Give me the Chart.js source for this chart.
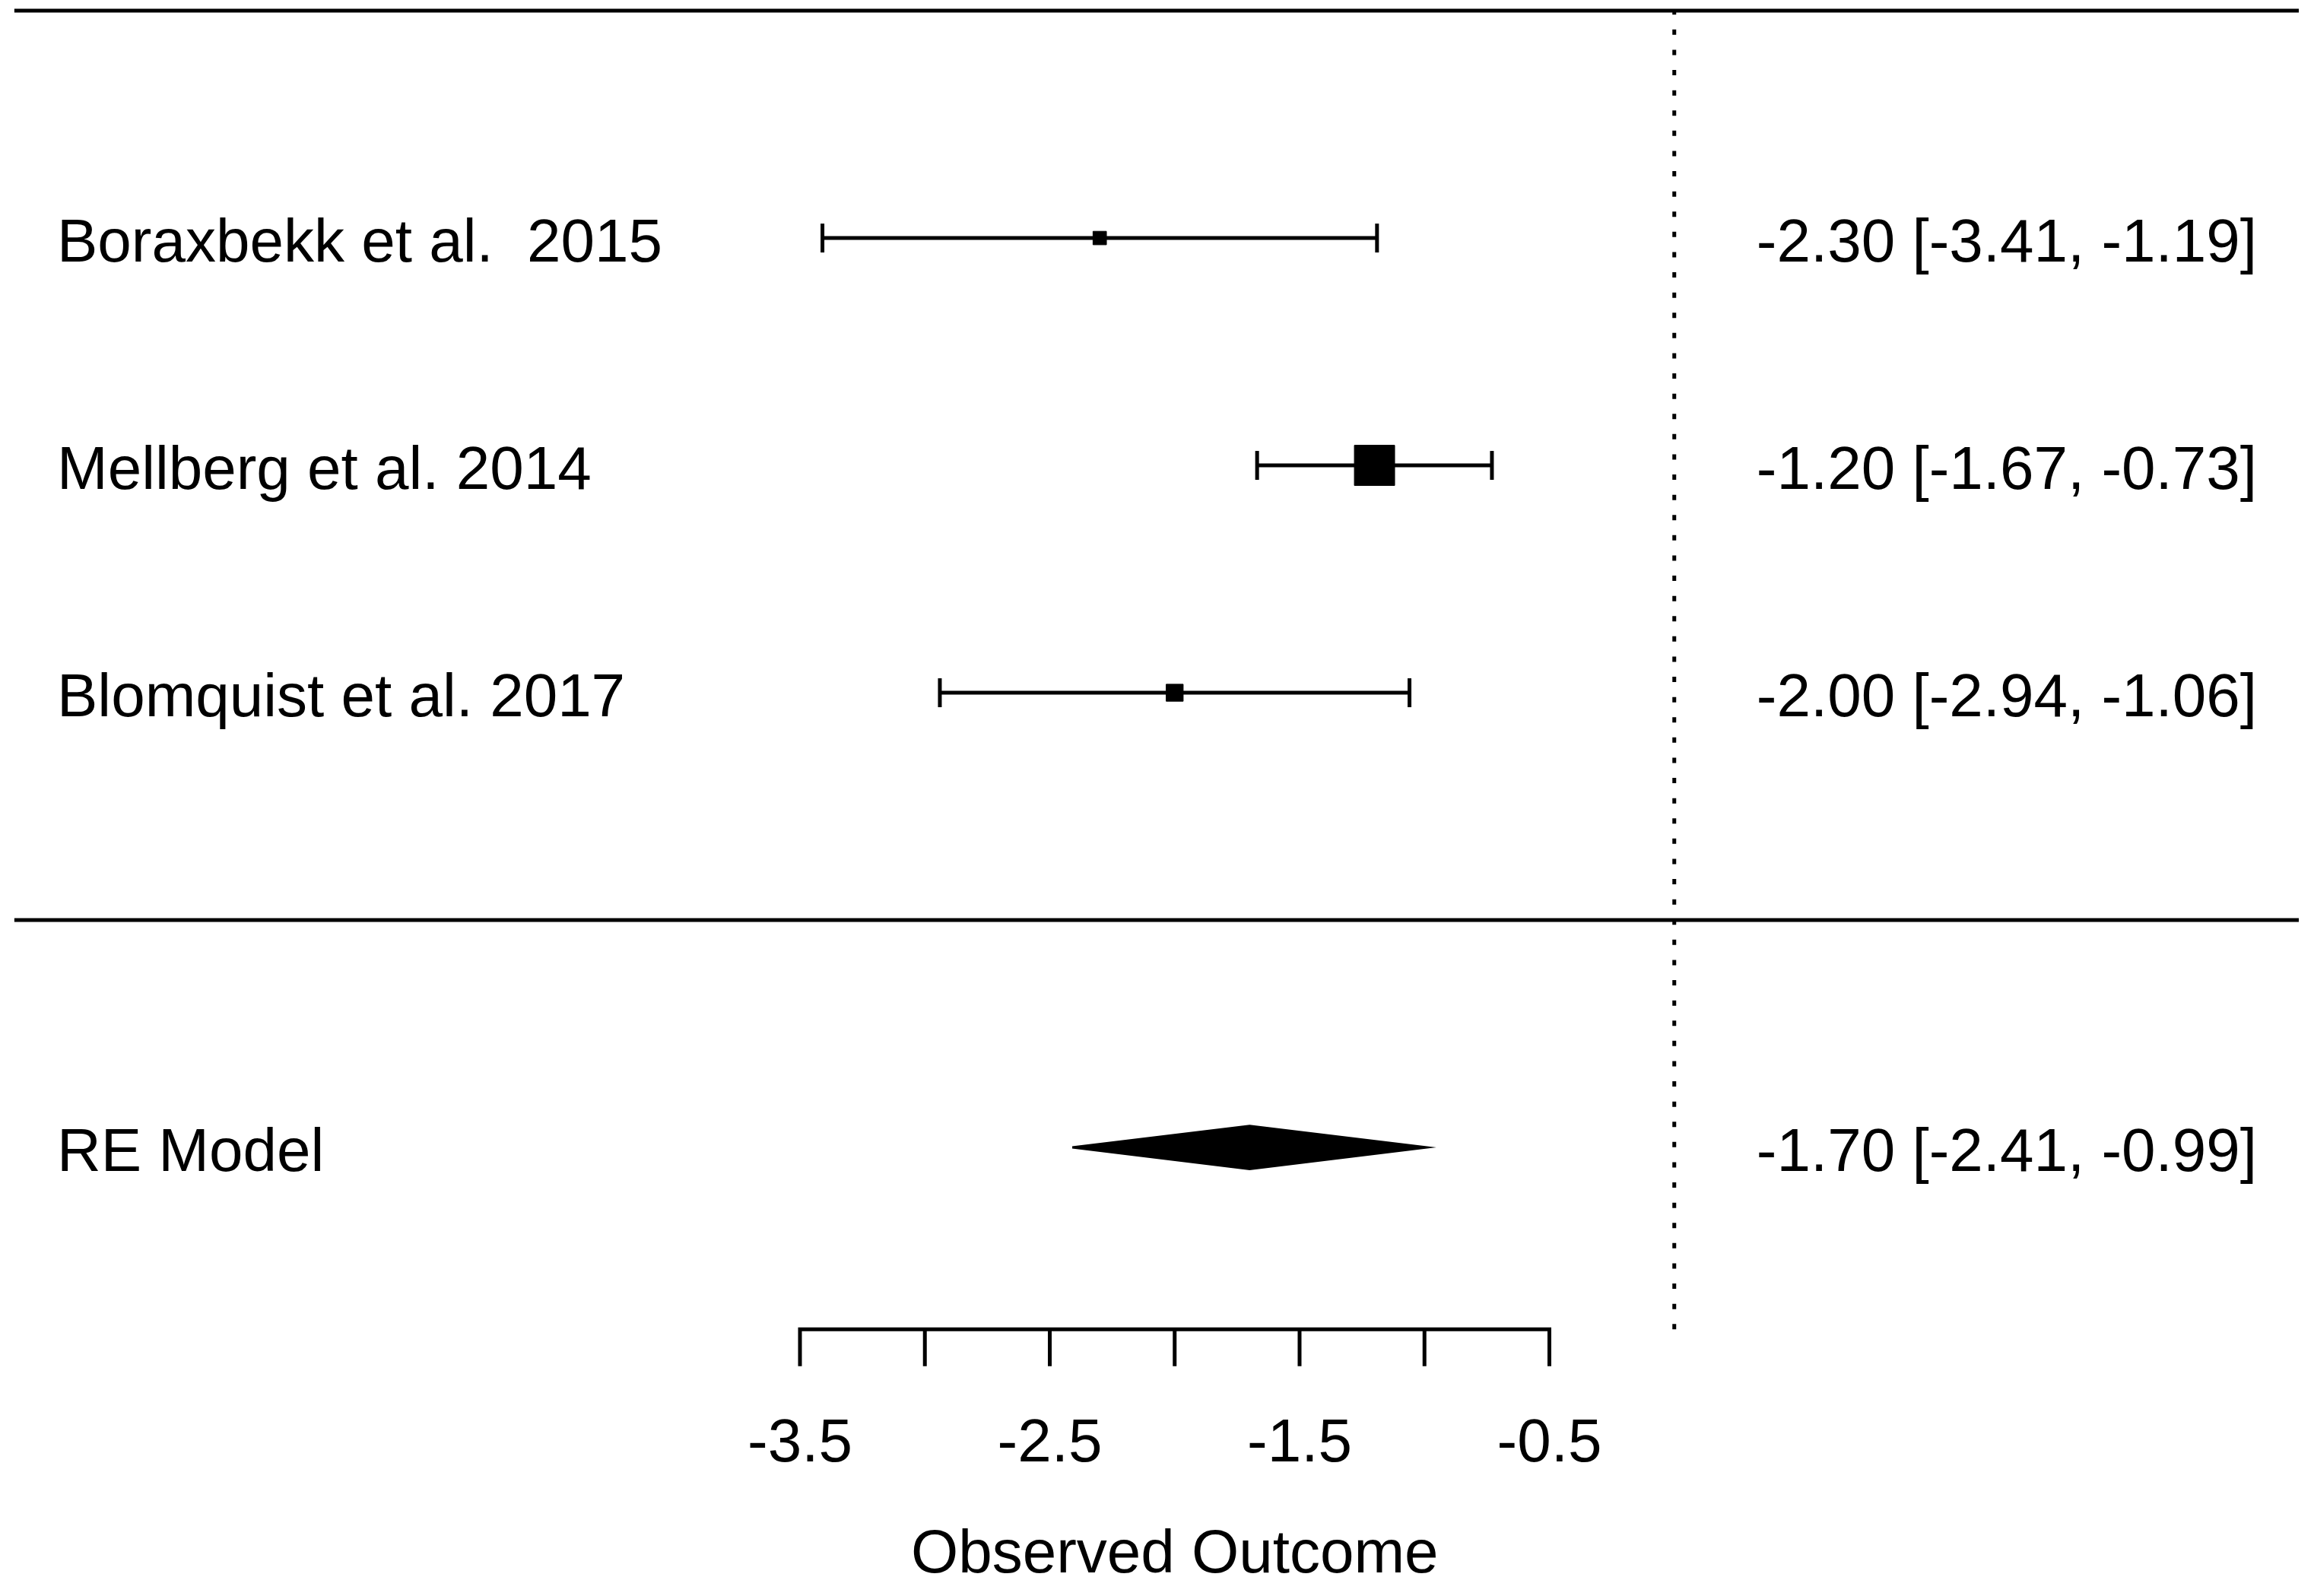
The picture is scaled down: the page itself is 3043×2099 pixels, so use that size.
<!DOCTYPE html>
<html>
<head>
<meta charset="utf-8">
<script src="https://cdn.jsdelivr.net/npm/chart.js@4.4.1/dist/chart.umd.min.js"></script>
<style>
    html, body { margin: 0; padding: 0; background: #ffffff; }
    #forest { display: block; }
</style>
</head>
<body>
<canvas id="forest" width="3043" height="2099" style="width:3043px;height:2099px"></canvas>
<script>
// Studies, effect sizes and confidence limits
var studies = ['Boraxbekk et al.  2015', 'Mellberg et al. 2014', 'Blomquist et al. 2017'];
var estimates = [-2.30, -1.20, -2.00];
var lowerCI = [-3.41, -1.67, -2.94];
var upperCI = [-1.19, -0.73, -1.06];
var rows = [3, 2, 1];

// Summary (random effects model)
var modelLabel = 'RE Model';
var modelEstimate = -1.70;
var modelLower = -2.41;
var modelUpper = -0.99;
var modelRow = -1;

// Axis
var axisTicks = [-3.5, -3.0, -2.5, -2.0, -1.5, -1.0, -0.5];
var axisLabelValues = [-3.5, -2.5, -1.5, -0.5];
var axisLabels = ['-3.5', '-2.5', '-1.5', '-0.5'];
var axisTitle = 'Observed Outcome';
var refLine = 0;

var FONT = '80px "Liberation Sans", Arial, sans-serif';
var LW = 5;

function fmt(v) { return v.toFixed(2); }

// point size from precision (like metafor: rescaled to 0.5 - 1.5)
var precision = lowerCI.map(function (lo, i) { return 1 / ((upperCI[i] - lo) / (2 * 1.96)); });
var pMin = Math.min.apply(null, precision), pMax = Math.max.apply(null, precision);
var squareRadius = precision.map(function (p) {
    var cex = (p - pMin) / (pMax - pMin) + 0.5;
    return cex * 35.3 / Math.SQRT2;
});

var datasets = [];

// horizontal lines (top line and separator)
[4, 0].forEach(function (yv) {
    datasets.push({
        data: [{ x: -6.645, y: yv }, { x: 2.50, y: yv }],
        showLine: true, borderColor: '#000', borderWidth: LW, pointRadius: 0
    });
});

// reference line
datasets.push({
    data: [{ x: refLine, y: -1.8 }, { x: refLine, y: 4 }],
    showLine: true, borderColor: '#000', borderWidth: LW, borderDash: [7, 19.6],
    borderCapStyle: 'butt', pointRadius: 0
});

// confidence intervals with end caps
studies.forEach(function (s, i) {
    datasets.push({
        data: [{ x: lowerCI[i], y: rows[i] }, { x: upperCI[i], y: rows[i] }],
        showLine: true, borderColor: '#000', borderWidth: LW,
        pointStyle: 'line', rotation: 90, pointRadius: 19,
        pointBorderColor: '#000', pointBorderWidth: LW
    });
});

// squares
datasets.push({
    data: estimates.map(function (e, i) { return { x: e, y: rows[i] }; }),
    showLine: false, pointStyle: 'rect', pointRadius: squareRadius,
    pointBackgroundColor: '#000', pointBorderColor: '#000', pointBorderWidth: 1
});

// summary diamond
var dh = 0.095;
datasets.push({
    data: [
        { x: modelLower, y: modelRow },
        { x: modelEstimate, y: modelRow + dh },
        { x: modelUpper, y: modelRow },
        { x: modelEstimate, y: modelRow - dh },
        { x: modelLower, y: modelRow }
    ],
    showLine: true, fill: 'shape', backgroundColor: '#000',
    borderColor: '#000', borderWidth: 3, pointRadius: 0, tension: 0
});

// text and bottom axis
var forestText = {
    id: 'forestText',
    afterDatasetsDraw: function (chart) {
        var ctx = chart.ctx;
        var xs = chart.scales.x, ys = chart.scales.y;
        ctx.save();
        ctx.fillStyle = '#000';
        ctx.strokeStyle = '#000';
        ctx.font = FONT;
        ctx.textBaseline = 'alphabetic';

        var leftX = 75, rightX = 2968, off = 31;
        studies.forEach(function (s, i) {
            var y = ys.getPixelForValue(rows[i]) + off;
            ctx.textAlign = 'left';
            ctx.fillText(s, leftX, y);
            ctx.textAlign = 'right';
            ctx.fillText(fmt(estimates[i]) + ' [' + fmt(lowerCI[i]) + ', ' + fmt(upperCI[i]) + ']', rightX, y);
        });
        var my = ys.getPixelForValue(modelRow) + off;
        ctx.textAlign = 'left';
        ctx.fillText(modelLabel, leftX, my);
        ctx.textAlign = 'right';
        ctx.fillText(fmt(modelEstimate) + ' [' + fmt(modelLower) + ', ' + fmt(modelUpper) + ']', rightX, my);

        // axis line + ticks
        var ay = ys.getPixelForValue(-1.8);
        var x0 = xs.getPixelForValue(axisTicks[0]);
        var x1 = xs.getPixelForValue(axisTicks[axisTicks.length - 1]);
        ctx.lineWidth = LW;
        ctx.lineCap = 'square';
        ctx.beginPath();
        ctx.moveTo(x0, ay);
        ctx.lineTo(x1, ay);
        axisTicks.forEach(function (t) {
            var tx = xs.getPixelForValue(t);
            ctx.moveTo(tx, ay);
            ctx.lineTo(tx, ay + 46);
        });
        ctx.stroke();

        ctx.textAlign = 'center';
        axisLabelValues.forEach(function (v, i) {
            ctx.fillText(axisLabels[i], xs.getPixelForValue(v), 1922);
        });
        ctx.fillText(axisTitle, (x0 + x1) / 2, 2068);
        ctx.restore();
    }
};

new Chart(document.getElementById('forest').getContext('2d'), {
    type: 'scatter',
    data: { datasets: datasets },
    options: {
        responsive: false,
        animation: false,
        devicePixelRatio: 1,
        events: [],
        layout: { padding: 0, autoPadding: false },
        plugins: { legend: { display: false }, tooltip: { enabled: false } },
        scales: {
            x: { type: 'linear', display: false, min: -6.7024, max: 2.5609 },
            y: { type: 'linear', display: false, min: -2.973, max: 4.047 }
        }
    },
    plugins: [forestText]
});
</script>
</body>
</html>
